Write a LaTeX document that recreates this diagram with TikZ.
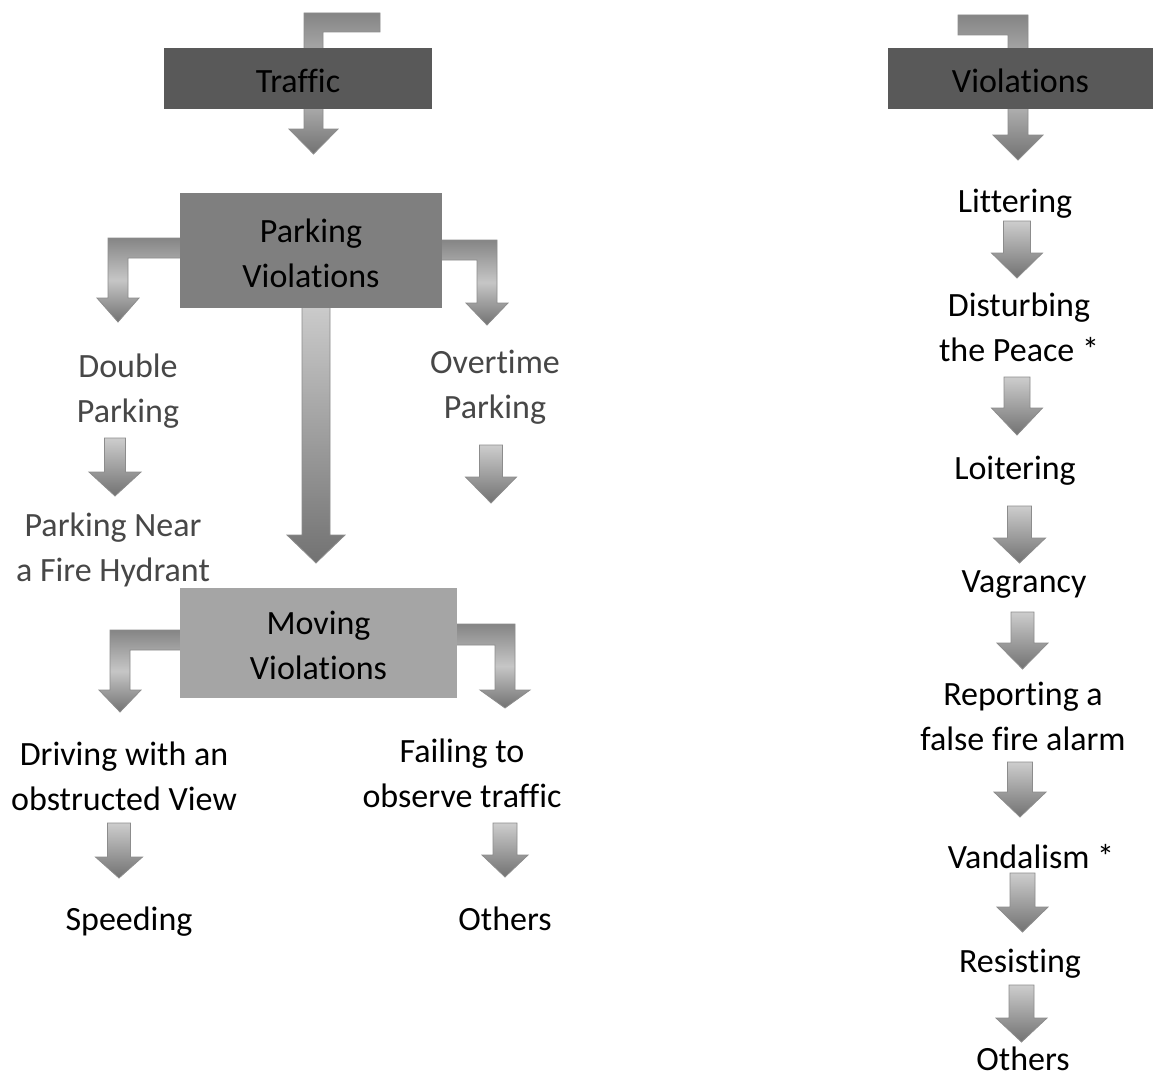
\documentclass[tikz,border=0pt]{standalone}
\usepackage{fontspec}
\setmainfont{Carlito}[Ligatures={NoCommon,NoContextual}]
\definecolor{boxA}{HTML}{595959}
\definecolor{boxB}{HTML}{7F7F7F}
\definecolor{boxC}{HTML}{A5A5A5}
\definecolor{arrLine}{HTML}{8C8C8C}
\definecolor{arrTop}{HTML}{CDCDCD}
\definecolor{arrBot}{HTML}{727272}
\definecolor{bentTop}{HTML}{858585}
\definecolor{bentMid}{HTML}{C6C6C6}
\definecolor{labGray}{HTML}{474747}
\newcommand\lstrut{\rule[-8.5pt]{0pt}{45pt}}
\tikzset{
  lbl/.style={font=\fontsize{34}{45}\selectfont, align=center, inner sep=0pt, text=black},
  glbl/.style={lbl, text=labGray},
  dnarr/.style={draw=arrLine, line width=0.8pt, top color=arrTop, bottom color=arrBot},
  bentarr/.style={draw=arrLine, line width=0.8pt, top color=bentTop, bottom color=arrBot, middle color=bentMid},
}
% cx, top, head base, tip, shaft width, head width
\newcommand\dnarrow[6]{%
  \path[dnarr] ({#1-#5/2},#2) -- ({#1+#5/2},#2) -- ({#1+#5/2},#3) -- ({#1+#6/2},#3)
    -- (#1,#4) -- ({#1-#6/2},#3) -- ({#1-#5/2},#3) -- cycle;}
\begin{document}
\begin{tikzpicture}[x=1pt,y=-1pt]
\useasboundingbox (0,0) rectangle (1153,1081);
\fill[white] (0,0) rectangle (1153,1081);

% bent arrows (behind boxes)
\path[bentarr] (380,13) -- (304,13) -- (304,129) -- (289,129) -- (313.5,154) -- (338,129) -- (323,129) -- (323,32) -- (380,32) -- cycle;
\path[bentarr] (958,15) -- (1028,15) -- (1028,135) -- (1043,135) -- (1018,160) -- (993,135) -- (1008,135) -- (1008,35) -- (958,35) -- cycle;
\path[bentarr] (190,238) -- (108,238) -- (108,298) -- (97,298) -- (118,322) -- (139,298) -- (128,298) -- (128,258) -- (190,258) -- cycle;
\path[bentarr] (430,240) -- (497,240) -- (497,303) -- (508,303) -- (487,325) -- (466,303) -- (477,303) -- (477,260) -- (430,260) -- cycle;
\path[bentarr] (190,630) -- (110,630) -- (110,690) -- (99,690) -- (120,712) -- (141,690) -- (130,690) -- (130,650) -- (190,650) -- cycle;
\path[bentarr] (450,624) -- (515,624) -- (515,690) -- (530,690) -- (505,708) -- (480,690) -- (495,690) -- (495,645) -- (450,645) -- cycle;

% big down arrow
\dnarrow{316}{300}{535}{563}{28}{58}

% boxes
\node[lbl, fill=boxA, minimum width=268pt, minimum height=61pt] (traffic) at (298,78.5) {\lstrut Traffic};
\node[lbl, fill=boxA, minimum width=265pt, minimum height=61pt] (viol) at (1020.5,78.5) {\lstrut Violations};
\node[lbl, fill=boxB, minimum width=262pt, minimum height=115pt] (parking) at (311,250.5) {\lstrut Parking\\\lstrut Violations};
\node[lbl, fill=boxC, minimum width=277pt, minimum height=110pt] (moving) at (318.5,643) {\lstrut Moving\\\lstrut Violations};

% left labels
\node[glbl] (double) at (128,386) {\lstrut Double\\\lstrut Parking};
\node[glbl] (near) at (113,545) {\lstrut Parking Near\\\lstrut a Fire Hydrant};
\node[glbl] (overtime) at (495,382) {\lstrut Overtime\\\lstrut Parking};
\node[lbl] (driving) at (124,774) {\lstrut Driving with an\\\lstrut obstructed View};
\node[lbl] (speeding) at (129,916) {\lstrut Speeding};
\node[lbl] (failing) at (462,771) {\lstrut Failing to\\\lstrut observe traffic};
\node[lbl] (othersA) at (505,916) {\lstrut Others};

\dnarrow{115}{438}{472}{496}{21}{52}
\dnarrow{491}{445}{477}{503}{23}{51}
\dnarrow{119}{823}{857}{878}{23}{47}
\dnarrow{505}{823}{855}{877}{24}{46}

% right column
\node[lbl] (littering) at (1015,198) {\lstrut Littering};
\node[lbl] (disturbing) at (1019,325) {\lstrut Disturbing\\\lstrut the Peace *};
\node[lbl] (loitering) at (1015,465) {\lstrut Loitering};
\node[lbl] (vagrancy) at (1024,578) {\lstrut Vagrancy};
\node[lbl] (reporting) at (1023,714) {\lstrut Reporting a\\\lstrut false fire alarm};
\node[lbl] (vandalism) at (1031,854) {\lstrut Vandalism *};
\node[lbl] (resisting) at (1020,958) {\lstrut Resisting};
\node[lbl] (othersB) at (1023,1056) {\lstrut Others};

\dnarrow{1017}{221}{253}{278}{27}{51}
\dnarrow{1017}{377}{408}{435}{26}{51}
\dnarrow{1019.5}{506}{538}{563}{24}{52}
\dnarrow{1022.5}{612}{643}{669}{23}{51}
\dnarrow{1020}{762}{792}{817}{25}{52}
\dnarrow{1022.5}{873}{907}{932}{25}{51}
\dnarrow{1021.5}{985}{1018}{1042}{25}{51}
\end{tikzpicture}
\end{document}
